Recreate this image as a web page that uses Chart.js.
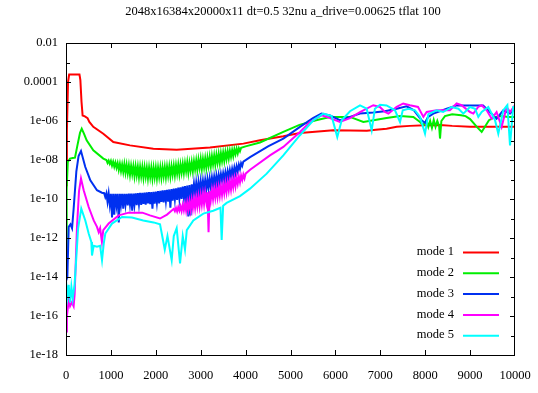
<!DOCTYPE html>
<html>
<head>
<meta charset="utf-8">
<script src="https://cdn.jsdelivr.net/npm/chart.js@4"></script>
<style>
  html, body { margin: 0; padding: 0; background: #fff; }
</style>
</head>
<body>
<canvas id="modeChart" width="538" height="393"></canvas>
<script>
const chartTitle = '2048x16384x20000x11 dt=0.5 32nu a_drive=0.00625 tflat 100';
const modeLabels = ['mode 1', 'mode 2', 'mode 3', 'mode 4', 'mode 5'];
const modeColors = ['#ff0000', '#00ee00', '#0030f0', '#ff00ff', '#00ffff'];

// y axis ticks (labelled every second decade)
const yTickValues = [1e-18, 1e-16, 1e-14, 1e-12, 1e-10, 1e-8, 1e-6, 1e-4, 1e-2];
const yTickLabels = ['1e-18', '1e-16', '1e-14', '1e-12', '1e-10', '1e-08', '1e-06', '0.0001', '0.01'];

// series as [time, log10(amplitude)]
const mode1 = [[0,-9.3],[20,-6.5],[45,-4.0],[70,-3.62],[300,-3.62],[320,-3.9],[345,-5.0],[370,-5.72],[420,-5.76],[480,-5.85],
  [520,-6.05],[608,-6.3],[831,-6.65],[1054,-7.08],[1425,-7.25],[1945,-7.42],[2465,-7.47],[3207,-7.36],[3950,-7.16],[4320,-6.99],
  [4840,-6.78],[5211,-6.61],[5954,-6.48],[6700,-6.5],[6900,-6.45],[7140,-6.4],[7365,-6.3],[7660,-6.25],[8000,-6.22],[8330,-6.2],
  [8600,-6.25],[9000,-6.3],[9500,-6.3],[10000,-6.3]];

const mode2 = [[0,-14],[15,-9.5],[40,-8.1],[90,-7.93],[150,-7.9],[200,-7.88],[250,-7.3],[312,-6.6],[350,-6.4],[400,-6.65],
  [460,-6.99],[608,-7.5],[831,-7.93],
  [900,-8.0],[925,-8.15],[950,-8.03],[975,-8.2],[1000,-8.05],[1025,-8.29],[1050,-8.09],[1075,-8.35],[1100,-8.13],[1125,-8.4],
  [1150,-8.16],[1175,-8.5],[1200,-8.2],[1225,-8.57],[1250,-8.23],[1275,-8.61],[1300,-8.21],[1325,-8.65],[1350,-8.25],[1375,-8.68],
  [1400,-8.28],[1425,-8.76],[1450,-8.3],[1475,-8.72],[1500,-8.32],[1525,-8.82],[1550,-8.33],[1575,-8.78],[1600,-8.35],[1625,-8.87],
  [1650,-8.36],[1675,-8.83],[1700,-8.37],[1725,-8.9],[1750,-8.38],[1775,-8.85],[1800,-8.4],[1825,-8.93],[1850,-8.4],[1875,-8.87],
  [1900,-8.4],[1925,-8.94],[1950,-8.4],[1975,-8.88],[2000,-8.4],[2025,-8.93],[2050,-8.4],[2075,-8.86],[2100,-8.39],[2125,-8.9],
  [2150,-8.38],[2175,-8.83],[2200,-8.37],[2225,-8.87],[2250,-8.35],[2275,-8.8],[2300,-8.34],[2325,-8.83],[2350,-8.32],[2375,-8.74],
  [2400,-8.3],[2425,-8.78],[2450,-8.28],[2475,-8.7],[2500,-8.25],[2525,-8.72],[2550,-8.23],[2575,-8.64],[2600,-8.2],[2625,-8.66],
  [2650,-8.17],[2675,-8.58],[2700,-8.13],[2725,-8.65],[2750,-8.15],[2775,-8.55],[2800,-8.11],[2825,-8.57],[2850,-8.07],[2875,-8.48],
  [2900,-8.03],[2925,-8.5],[2950,-7.99],[2975,-8.4],[3000,-7.95],[3025,-8.46],[3050,-7.96],[3075,-8.38],[3100,-7.93],[3125,-8.4],
  [3150,-7.89],[3175,-8.3],[3200,-7.85],[3225,-8.32],[3250,-7.81],[3275,-8.22],[3300,-7.78],[3325,-8.24],[3350,-7.74],[3375,-8.14],
  [3400,-7.7],[3425,-8.15],[3450,-7.66],[3475,-8.05],[3500,-7.62],[3525,-8.04],[3550,-7.59],[3575,-7.95],[3600,-7.55],[3625,-7.92],
  [3650,-7.52],[3675,-7.84],[3700,-7.49],[3725,-7.8],[3750,-7.45],[3775,-7.7],[3800,-7.42],[3825,-7.66],[3850,-7.4],[3875,-7.55],
  [3900,-7.37],
  [4000,-7.3],[4320,-7.1],[4840,-6.56],[5200,-6.2],[5568,-5.96],[5880,-5.79],[6325,-5.79],[6622,-6.05],[6850,-5.96],
  [7140,-5.85],[7440,-5.75],[7736,-5.79],[7885,-6.05],[7960,-6.22],[8030,-5.95],[8070,-6.3],[8110,-6.0],[8150,-6.35],[8190,-5.95],
  [8230,-6.3],[8270,-6.0],[8310,-6.25],[8330,-6.9],[8360,-6.0],[8440,-5.75],[8600,-5.65],[8800,-5.7],[8900,-5.75],[9000,-5.9],
  [9150,-6.3],[9258,-6.56],[9420,-5.96],[9550,-5.8],[9700,-5.75],[9850,-5.79],[10000,-5.8]];

const mode3 = [[0,-14.2],[30,-14.0],[60,-11.43],[100,-11.3],[135,-11.5],[170,-10.5],[230,-8.6],[280,-7.8],[334,-7.54],[430,-8.36],
  [542,-9.04],[690,-9.55],[800,-9.68],
  [850,-9.7],[875,-9.9],[900,-9.71],[925,-10.15],[950,-9.72],[975,-10.28],[1000,-9.73],[1025,-10.95],[1050,-9.73],[1075,-10.8],
  [1100,-9.73],[1125,-10.3],[1150,-9.73],[1175,-11.2],[1200,-9.73],[1225,-10.27],[1250,-9.73],[1275,-10.5],[1300,-9.73],[1325,-10.28],
  [1350,-9.73],[1375,-10.33],[1400,-9.72],[1425,-10.27],[1450,-9.72],[1475,-10.6],[1500,-9.72],[1525,-10.28],[1550,-9.71],[1575,-10.32],
  [1600,-9.7],[1625,-10.26],[1650,-9.69],[1675,-10.3],[1700,-9.68],[1725,-10.25],[1750,-9.67],[1775,-10.29],[1800,-9.66],[1825,-10.23],
  [1850,-9.65],[1875,-10.27],[1900,-9.64],[1925,-10.5],[1950,-9.63],[1975,-10.24],[2000,-9.62],[2025,-10.18],[2050,-9.6],[2075,-10.22],
  [2100,-9.58],[2125,-10.15],[2150,-9.56],[2175,-10.18],[2200,-9.55],[2225,-10.11],[2250,-9.53],[2275,-10.14],[2300,-9.51],[2325,-10.45],
  [2350,-9.49],[2375,-10.08],[2400,-9.47],[2425,-10.02],[2450,-9.45],[2475,-10.05],[2500,-9.42],[2525,-9.98],[2550,-9.4],[2575,-10.0],
  [2600,-9.37],[2625,-9.92],[2650,-9.34],[2675,-10.3],[2700,-9.31],[2725,-10.9],[2750,-9.28],[2775,-10.85],[2800,-9.25],[2825,-9.8],
  [2850,-9.22],[2875,-9.76],[2900,-9.18],[2925,-9.72],[2950,-9.14],[2975,-9.66],[3000,-9.1],[3025,-9.62],[3050,-9.07],[3075,-9.55],
  [3100,-9.03],[3125,-9.5],[3150,-8.99],[3175,-9.44],[3200,-8.95],[3225,-9.4],[3250,-8.9],[3275,-9.33],[3300,-8.86],[3325,-9.28],
  [3350,-8.81],[3375,-9.2],[3400,-8.77],[3425,-9.15],[3450,-8.72],[3475,-9.08],[3500,-8.68],[3525,-9.03],[3550,-8.63],[3575,-8.98],
  [3600,-8.58],[3625,-8.92],[3650,-8.52],[3675,-8.85],[3700,-8.46],[3725,-8.77],[3750,-8.39],[3775,-8.68],[3800,-8.32],[3825,-8.58],
  [3850,-8.24],[3875,-8.46],[3900,-8.16],[3925,-8.3],[3950,-8.08],
  [4100,-7.85],[4500,-7.3],[4840,-6.9],[5211,-6.3],[5500,-5.85],[5690,-5.62],[5880,-5.71],[6100,-5.96],[6325,-5.79],[6548,-5.62],
  [6844,-5.57],[7100,-5.5],[7365,-5.37],[7587,-5.25],[7750,-5.45],[7921,-5.96],[8000,-6.1],[8060,-5.8],[8180,-5.62],[8480,-5.37],
  [8700,-5.2],[9000,-5.2],[9290,-5.2],[9400,-5.45],[9590,-5.88],[9740,-5.45],[9890,-5.62],[10000,-5.37]];

const mode4 = [[0,-16.8],[20,-15.3],[40,-15.6],[60,-15.2],[90,-15.5],[130,-15.3],[170,-15.5],[193,-14.85],[245,-11.43],[290,-9.6],
  [334,-8.95],[394,-9.55],[505,-10.41],[617,-11.1],[690,-11.43],[728,-11.7],[760,-11.5],[800,-12.2],[830,-11.6],[950,-11.26],
  [1173,-10.84],[1396,-10.7],[1700,-10.7],[1870,-10.84],[2094,-11.0],[2250,-10.8],[2350,-10.6],
  [2400,-10.5],[2425,-10.62],[2450,-10.46],[2475,-10.64],[2500,-10.42],[2525,-10.6],[2550,-10.37],[2575,-10.62],[2600,-10.3],
  [2625,-10.58],[2650,-10.24],[2675,-10.6],[2700,-10.18],[2725,-10.54],[2750,-10.12],[2775,-10.55],[2800,-10.05],[2825,-10.48],
  [2850,-10.0],[2875,-10.46],[2900,-9.94],[2925,-10.38],[2950,-9.88],[2975,-10.36],[3000,-9.82],[3025,-10.28],[3050,-9.76],
  [3075,-10.25],[3100,-9.71],[3125,-10.15],[3150,-9.65],[3175,-11.7],[3200,-9.6],[3225,-10.05],[3250,-9.55],[3275,-10.0],
  [3300,-9.5],[3325,-9.93],[3350,-9.45],[3375,-9.9],[3400,-9.4],[3425,-9.83],[3450,-9.34],[3475,-9.78],[3500,-9.28],[3525,-9.7],
  [3550,-9.21],[3575,-9.64],[3600,-9.15],[3625,-9.55],[3650,-9.09],[3675,-9.5],[3700,-9.03],[3725,-9.4],[3750,-8.96],[3775,-9.34],
  [3800,-8.9],[3825,-9.22],[3850,-8.85],[3875,-9.14],[3900,-8.8],[3925,-9.02],[3950,-8.75],[3975,-8.94],[4000,-8.7],
  [4100,-8.5],[4543,-7.76],[4840,-7.33],[5211,-6.56],[5434,-6.05],[5694,-5.71],[5880,-5.85],[6100,-6.05],[6325,-5.85],[6548,-5.54],
  [6844,-5.19],[6990,-5.28],[7105,-5.54],[7180,-5.62],[7365,-5.28],[7510,-5.1],[7660,-5.19],[7840,-5.28],[7960,-5.79],[8033,-5.54],
  [8256,-5.45],[8550,-5.45],[8700,-5.1],[8810,-5.19],[8998,-5.54],[9072,-5.62],[9180,-5.28],[9258,-5.19],[9370,-5.45],[9480,-5.88],
  [9590,-5.54],[9702,-6.3],[9814,-5.28],[9890,-5.54],[10000,-5.19]];

const mode5 = [[0,-14.2],[30,-15.0],[60,-14.4],[90,-15.3],[120,-14.5],[150,-15.1],[190,-14.4],[230,-13.0],[270,-11.5],[340,-10.49],
  [430,-11.1],[505,-11.77],[564,-12.2],[579,-12.9],[616,-12.4],[690,-12.45],[760,-12.4],[802,-13.14],[840,-12.3],[876,-11.77],
  [1024,-11.26],[1247,-10.92],[1470,-10.95],[1720,-11.1],[1950,-11.2],[2094,-11.3],[2160,-12.1],[2200,-12.6],[2260,-11.9],[2354,-13.14],
  [2400,-11.9],[2465,-11.5],[2540,-13.3],[2600,-11.9],[2650,-12.6],[2690,-11.6],[2836,-11.1],[3058,-10.75],[3280,-10.6],[3440,-10.45],
  [3467,-12.1],[3500,-10.35],[3578,-10.2],[3875,-9.85],[4098,-9.47],[4470,-8.7],[4840,-7.76],[5211,-6.73],[5508,-5.96],[5731,-5.62],
  [5917,-5.75],[6042,-6.82],[6140,-5.96],[6325,-5.5],[6548,-5.2],[6697,-5.37],[6808,-6.48],[6880,-5.37],[6993,-5.17],[7140,-5.2],
  [7327,-5.45],[7439,-6.05],[7500,-5.45],[7630,-5.37],[7773,-5.45],[7885,-5.79],[7996,-6.65],[8070,-5.65],[8256,-5.45],[8400,-5.54],
  [8589,-5.28],[8740,-5.37],[8849,-5.62],[8998,-5.28],[9110,-5.37],[9183,-5.79],[9258,-5.54],[9405,-5.28],[9555,-5.96],[9628,-6.65],
  [9740,-5.45],[9830,-5.19],[9889,-7.25],[9960,-5.28],[10000,-5.28]];

const modeSeries = [mode1, mode2, mode3, mode4, mode5];

const serif = 'Liberation Serif';

// frame + inward ticks on all four sides, like gnuplot
const frameTicks = {
  id: 'frameTicks',
  afterDatasetsDraw(chart) {
    const { ctx, chartArea: a, scales } = chart;
    ctx.save();
    ctx.strokeStyle = '#000';
    ctx.lineWidth = 1;
    ctx.strokeRect(a.left + 0.5, a.top + 0.5, a.right - a.left - 1, a.bottom - a.top);
    ctx.beginPath();
    for (let v = 1000; v < 10000; v += 1000) {
      const px = Math.round(scales.x.getPixelForValue(v)) + 0.5;
      ctx.moveTo(px, a.bottom); ctx.lineTo(px, a.bottom - 5);
      ctx.moveTo(px, a.top); ctx.lineTo(px, a.top + 5);
    }
    for (let e = -17; e <= -3; e++) {
      const py = Math.round(scales.y.getPixelForValue(Math.pow(10, e))) + 0.5;
      const len = (e % 2 === 0) ? 5 : 4;
      ctx.moveTo(a.left, py); ctx.lineTo(a.left + len, py);
      ctx.moveTo(a.right, py); ctx.lineTo(a.right - len, py);
    }
    ctx.stroke();
    ctx.restore();
  }
};

const titleAndKey = {
  id: 'titleAndKey',
  afterDraw(chart) {
    const { ctx } = chart;
    ctx.save();
    ctx.fillStyle = '#000';
    ctx.font = '12.5px "' + serif + '"';
    ctx.textBaseline = 'middle';
    ctx.textAlign = 'center';
    ctx.fillText(chartTitle, 283, 12);
    ctx.textAlign = 'right';
    chart.data.datasets.forEach((ds, i) => {
      const y = 252 + i * 20.8;
      ctx.fillStyle = '#000';
      ctx.fillText(ds.label, 454, y);
      ctx.strokeStyle = ds.borderColor;
      ctx.lineWidth = 2;
      ctx.beginPath();
      ctx.moveTo(463, y + 0.5); ctx.lineTo(499, y + 0.5);
      ctx.stroke();
    });
    ctx.restore();
  }
};

new Chart(document.getElementById('modeChart'), {
  type: 'line',
  data: {
    datasets: modeSeries.map((s, i) => ({
      label: modeLabels[i],
      data: s.map(p => ({ x: p[0], y: Math.pow(10, p[1]) })),
      borderColor: modeColors[i],
      borderWidth: 2,
      pointRadius: 0,
      tension: 0,
      fill: false,
      order: 5 - i
    }))
  },
  options: {
    responsive: false,
    animation: false,
    layout: { padding: { top: 43, right: 23, left: 0, bottom: 0 } },
    plugins: { legend: { display: false }, title: { display: false }, tooltip: { enabled: false } },
    scales: {
      x: {
        type: 'linear',
        min: 0, max: 10000,
        grid: { display: false, drawTicks: false },
        border: { display: false },
        ticks: {
          stepSize: 1000, padding: 13, color: '#000', maxRotation: 0,
          font: { family: serif, size: 12.5 },
          callback: v => String(v)
        },
        afterFit: s => { s.height = 38; s.paddingLeft = 0; s.paddingRight = 0; }
      },
      y: {
        type: 'logarithmic',
        min: 1e-18, max: 1e-2,
        grid: { display: false, drawTicks: false },
        border: { display: false },
        afterBuildTicks: s => { s.ticks = yTickValues.map(v => ({ value: v })); },
        ticks: {
          padding: 8, color: '#000',
          font: { family: serif, size: 12.5 },
          callback: (v, i) => yTickLabels[i]
        },
        afterFit: s => { s.width = 66; s.paddingTop = 0; s.paddingBottom = 0; }
      }
    }
  },
  plugins: [frameTicks, titleAndKey]
});
</script>
</body>
</html>
